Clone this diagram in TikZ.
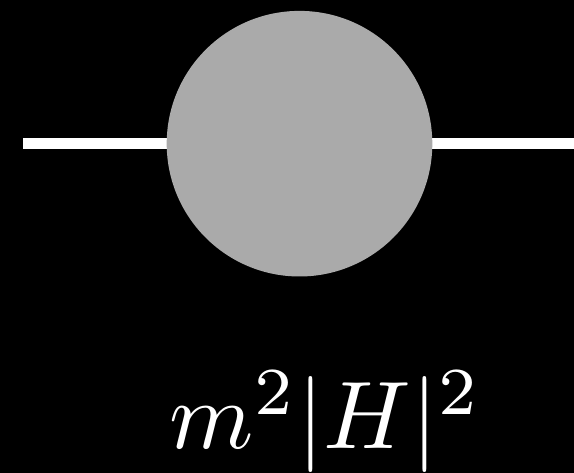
\documentclass[tikz,border=0pt]{standalone}
\usepackage{amsmath}
\usepackage{tikz}
\usetikzlibrary{positioning}

\definecolor{blobgray}{RGB}{170,170,170}

\begin{document}
\begin{tikzpicture}[x=1pt,y=1pt]

% Parameters
\def\radius{132.8}
\def\lineY{329.3}

% Background
\fill[black] (0,0) rectangle (574,473);
\useasboundingbox (0,0) rectangle (574,473);

% Ends of the leg
\coordinate (legL) at (23,\lineY);
\coordinate (legR) at (574,\lineY);

% Leg
\draw[white, line width=10.5pt] (legL) -- (legR);

% Blob
\node[circle, fill=blobgray, minimum size=2*\radius pt, inner sep=0pt] (blob) at (299.5,\lineY) {};

% Label
\node[white, scale=9.6, anchor=base west, inner sep=0pt] (label) at (168,24) {$m^2|H|^2$};

\end{tikzpicture}
\end{document}
